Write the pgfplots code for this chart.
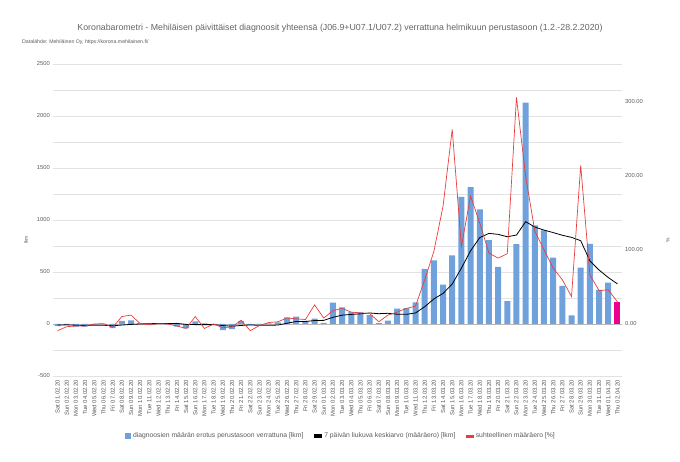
\documentclass[border=0pt]{standalone}
\usepackage{pgfplots}
\pgfplotsset{compat=1.18}
\usepackage{fontspec}
\setmainfont{Liberation Sans}
\definecolor{barblue}{RGB}{111,161,220}
\definecolor{linered}{RGB}{232,62,62}
\definecolor{gridgray}{RGB}{226,226,226}
\definecolor{txtgray}{RGB}{90,90,90}
\definecolor{titlegray}{RGB}{100,100,100}
\begin{document}
\begin{tikzpicture}
\useasboundingbox (0pt,0pt) rectangle (680pt,462pt);
\node[font=\fontsize{8.8}{10}\selectfont, text=titlegray] at (340pt,434pt) {Koronabarometri - Mehiläisen päivittäiset diagnoosit yhteensä (J06.9+U07.1/U07.2) verrattuna helmikuun perustasoon (1.2.-28.2.2020)};
\node[font=\fontsize{5.2}{6}\selectfont, text=txtgray, anchor=west, inner sep=0pt] at (22pt,420pt) {Datalähde: Mehiläinen Oy, https://korona.mehilainen.fi/};
\node[rotate=90, font=\fontsize{5}{6}\selectfont, text=txtgray] at (26pt,222pt) {lkm};
\node[rotate=90, font=\fontsize{5}{6}\selectfont, text=txtgray] at (668pt,222pt) {\%};
\begin{axis}[
  at={(53pt,86pt)}, anchor=south west,
  width=569pt, height=312pt, scale only axis,
  xmin=-0.5, xmax=61.5, ymin=-500, ymax=2500,
  axis line style={draw=none},
  major tick length=0pt, minor tick length=0pt,
  ytick={-500,0,...,2500},
  minor ytick={-250,250,750,1250,1750,2250},
  ymajorgrids, yminorgrids,
  grid style={gridgray, line width=0.6pt},
  minor grid style={gridgray, line width=0.6pt},
  xtick={0,...,61},
  xticklabels={Sat 01.02.20,Sun 02.02.20,Mon 03.02.20,Tue 04.02.20,Wed 05.02.20,Thu 06.02.20,Fri 07.02.20,Sat 08.02.20,Sun 09.02.20,Mon 10.02.20,Tue 11.02.20,Wed 12.02.20,Thu 13.02.20,Fri 14.02.20,Sat 15.02.20,Sun 16.02.20,Mon 17.02.20,Tue 18.02.20,Wed 19.02.20,Thu 20.02.20,Fri 21.02.20,Sat 22.02.20,Sun 23.02.20,Mon 24.02.20,Tue 25.02.20,Wed 26.02.20,Thu 27.02.20,Fri 28.02.20,Sat 29.02.20,Sun 01.03.20,Mon 02.03.20,Tue 03.03.20,Wed 04.03.20,Thu 05.03.20,Fri 06.03.20,Sat 07.03.20,Sun 08.03.20,Mon 09.03.20,Tue 10.03.20,Wed 11.03.20,Thu 12.03.20,Fri 13.03.20,Sat 14.03.20,Sun 15.03.20,Mon 16.03.20,Tue 17.03.20,Wed 18.03.20,Thu 19.03.20,Fri 20.03.20,Sat 21.03.20,Sun 22.03.20,Mon 23.03.20,Tue 24.03.20,Wed 25.03.20,Thu 26.03.20,Fri 27.03.20,Sat 28.03.20,Sun 29.03.20,Mon 30.03.20,Tue 31.03.20,Wed 01.04.20,Thu 02.04.20},
  xticklabel style={rotate=90, anchor=east, font=\fontsize{5.9}{6}\selectfont, text=txtgray, inner sep=0pt},
  xticklabel shift=4pt,
  yticklabel style={font=\fontsize{5.8}{6}\selectfont, text=txtgray, inner sep=0pt},
  yticklabel shift=3pt,
  /pgf/number format/assume math mode=true,
  /pgf/number format/1000 sep={},
  clip=false,
  legend columns=3,
  legend cell align=left,
  legend style={at={(0.506,-0.192)}, anchor=center, draw=none, fill=none,
    font=\fontsize{6.8}{7}\selectfont, text=txtgray,
    /tikz/every even column/.append style={column sep=9pt}},
]
\draw[gray!55, line width=0.6pt] (axis cs:-0.5,0) -- (axis cs:61.5,0);
\addplot[ybar, bar width=6pt, bar shift=0pt, fill=barblue, draw=none,
  legend image code/.code={\fill[barblue] (0pt,-3pt) rectangle (6pt,3pt);}]
coordinates {
(0,-20) (1,-5) (2,-25) (3,-25) (4,-5) (5,0) (6,-40) (7,29) (8,35) (9,5)
(10,-5) (11,5) (12,-3) (13,-25) (14,-42) (15,25) (16,5) (17,-5) (18,-58) (19,-50)
(20,30) (21,-10) (22,-5) (23,5) (24,16) (25,64) (26,70) (27,30) (28,52) (29,10)
(30,205) (31,161) (32,115) (33,112) (34,85) (35,8) (36,32) (37,147) (38,152) (39,209)
(40,530) (41,611) (42,379) (43,659) (44,1222) (45,1315) (46,1102) (47,807) (48,550) (49,219)
(50,768) (51,2128) (52,948) (53,900) (54,639) (55,366) (56,84) (57,543) (58,771) (59,328)
(60,398)
};
\addlegendentry{diagnoosien määrän erotus perustasoon verrattuna [lkm]}
\addplot[ybar, bar width=6pt, bar shift=0pt, fill=magenta, draw=none, forget plot]
coordinates {(61,215)};
\addplot[black, line width=0.8pt,
  legend image code/.code={\fill[black] (0pt,-1.2pt) rectangle (7pt,1.2pt);}]
coordinates {
(0,-10) (1,-8) (2,-12) (3,-14) (4,-12) (5,-12) (6,-17) (7,-10) (8,-4) (9,0)
(10,3) (11,4) (12,4) (13,6) (14,-4) (15,-6) (16,-6) (17,-6) (18,-15) (19,-21)
(20,-14) (21,-9) (22,-13) (23,-13) (24,-10) (25,7) (26,24) (27,24) (28,33) (29,35)
(30,64) (31,85) (32,92) (33,98) (34,106) (35,99) (36,103) (37,94) (38,93) (39,106)
(40,166) (41,241) (42,294) (43,384) (44,537) (45,704) (46,831) (47,871) (48,862) (49,839)
(50,855) (51,984) (52,932) (53,903) (54,879) (55,853) (56,833) (57,801) (58,607) (59,519)
(60,447) (61,386)
};
\addlegendentry{7 päivän liukuva keskiarvo (määräero) [lkm]}
\addlegendimage{legend image code/.code={\fill[linered] (0pt,-1.2pt) rectangle (7pt,1.2pt);}}
\addlegendentry{suhteellinen määräero [\%]}
\end{axis}
\begin{axis}[
  at={(53pt,86pt)}, anchor=south west,
  width=569pt, height=312pt, scale only axis,
  xmin=-0.5, xmax=61.5, ymin=-70, ymax=350,
  axis y line*=right, axis x line=none,
  axis line style={draw=none},
  major tick length=0pt,
  ytick={0,100,200,300},
  yticklabel style={font=\fontsize{5.8}{6}\selectfont, text=txtgray, inner sep=0pt,
    /pgf/number format/.cd, fixed, fixed zerofill, precision=2, assume math mode=true},
  yticklabel shift=3pt,
  clip=false,
]
\addplot[linered, line width=0.7pt]
coordinates {
(0,-9) (1,-3.6) (2,-2.7) (3,-2.7) (4,0) (5,0.5) (6,-4.5) (7,10) (8,12) (9,0.5)
(10,-1) (11,0.5) (12,0) (13,-2.7) (14,-6) (15,10) (16,-6) (17,0) (18,-5) (19,-4)
(20,5) (21,-9) (22,-2) (23,2) (24,3) (25,8) (26,7) (27,6) (28,25.7) (29,8)
(30,18) (31,21) (32,16) (33,15) (34,14) (35,3) (36,12) (37,16) (38,21) (39,24)
(40,59.5) (41,97.7) (42,158.6) (43,262) (44,104.5) (45,172) (46,136) (47,95.5) (48,88.7) (49,94.6)
(50,305) (51,199) (52,124.8) (53,100) (54,75.2) (55,59.5) (56,36.9) (57,213.5) (58,66.2) (59,45)
(60,46) (61,30)
};
\end{axis}
\end{tikzpicture}
\end{document}
